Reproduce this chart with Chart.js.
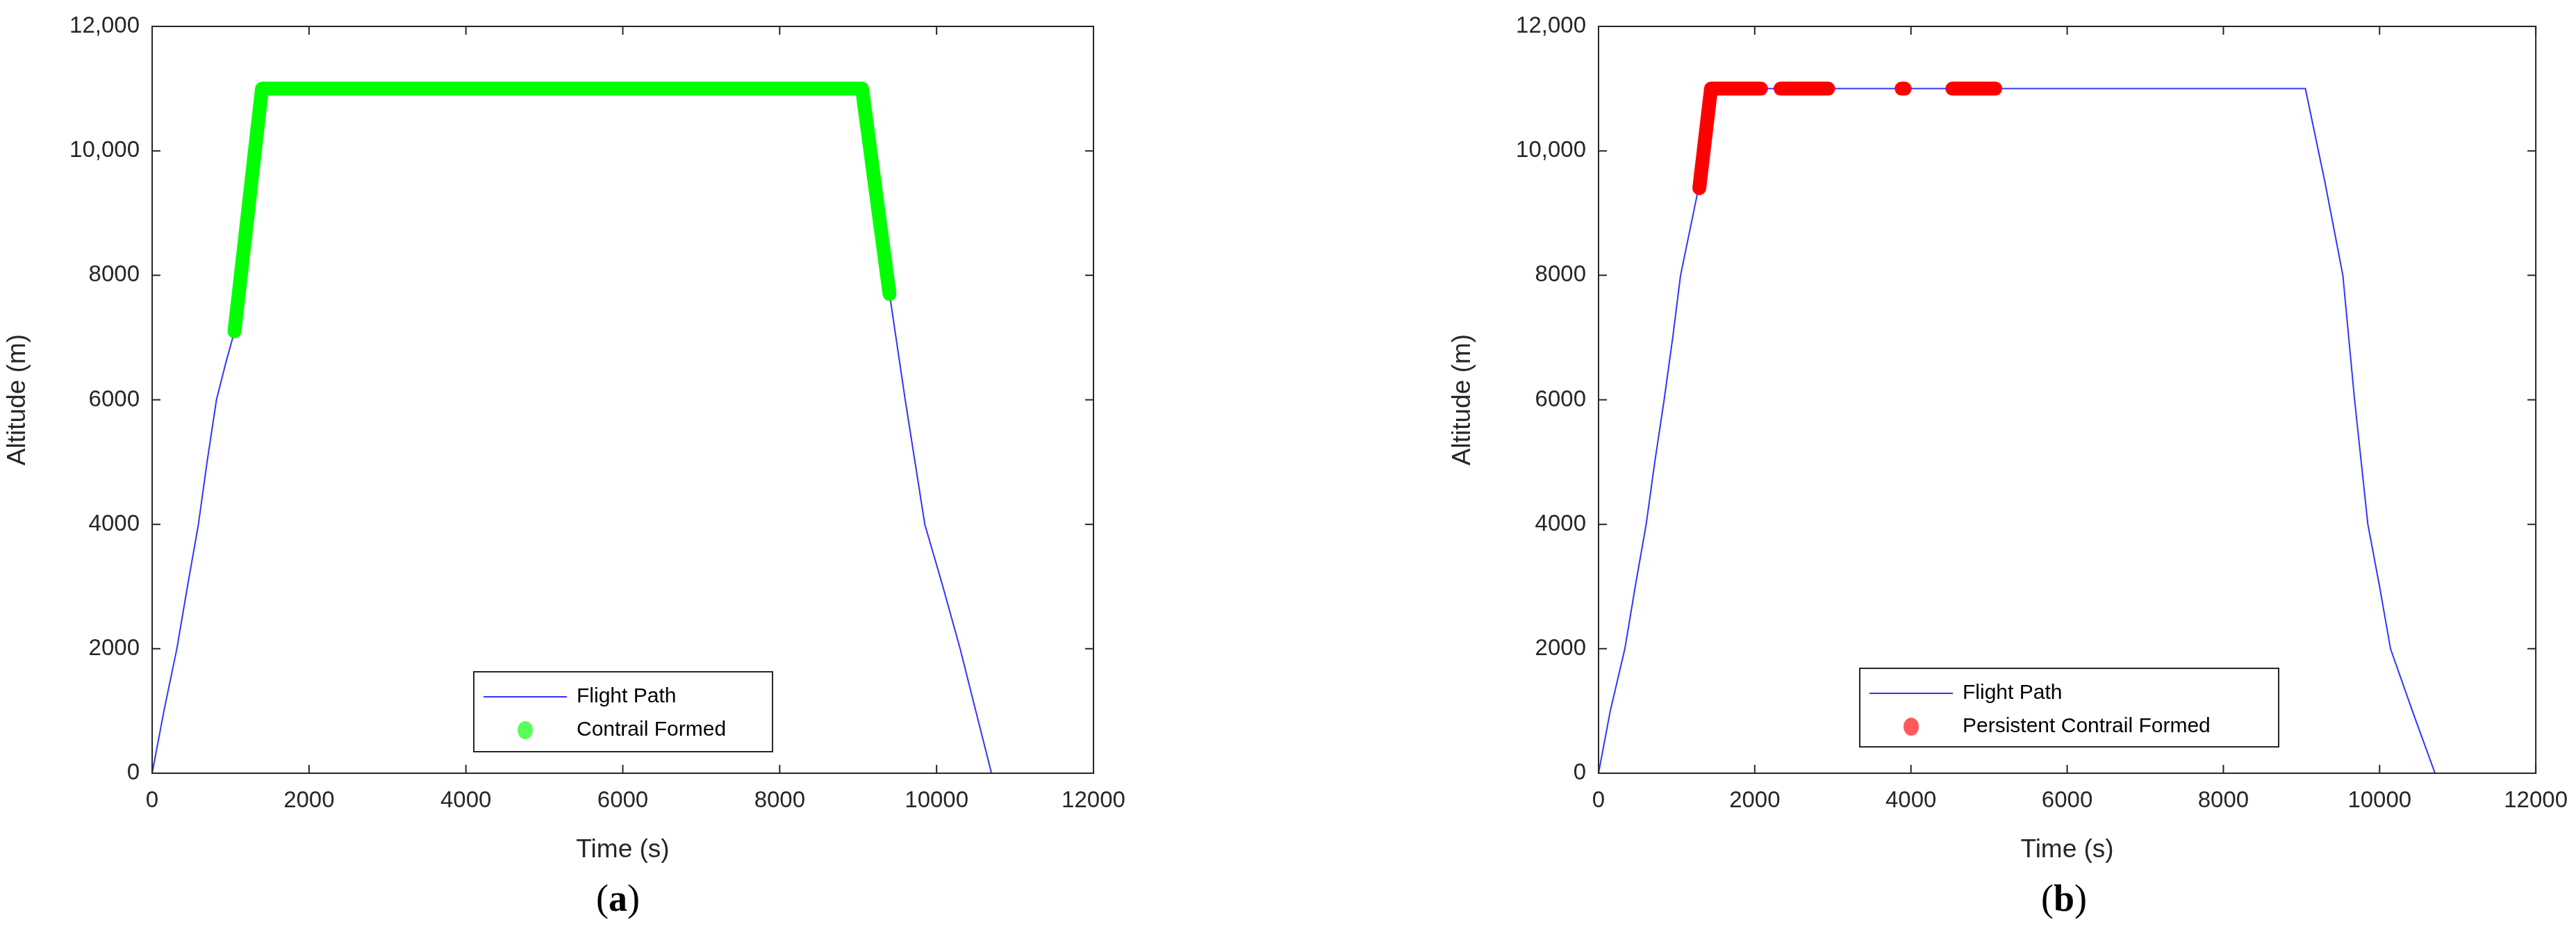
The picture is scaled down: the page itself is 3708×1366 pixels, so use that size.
<!DOCTYPE html>
<html>
<head>
<meta charset="utf-8">
<script src="https://cdn.jsdelivr.net/npm/chart.js@4.4.1/dist/chart.umd.min.js"></script>
<style>
  body { margin: 0; background: #fff; width: 3708px; height: 1366px; position: relative; overflow: hidden; }
  .box { position: absolute; top: 0; }
  .cap { position: absolute; top: 1262px; font-family: "Liberation Serif", serif; font-size: 54px; color: #000; }
</style>
</head>
<body>
<div class="box" style="left:0;width:1640px;height:1250px"><canvas id="js--chart--a" width="1640" height="1250"></canvas></div>
<div class="box" style="left:2080px;width:1628px;height:1250px"><canvas id="js--chart--b" width="1628" height="1250"></canvas></div>
<div class="cap" style="left:858px">(<b>a</b>)</div>
<div class="cap" style="left:2938px">(<b>b</b>)</div>
<script>
// flight path (a)
const timeA = [0, 150, 315, 450, 590, 700, 820, 940, 1050, 1400, 9050, 9400, 9600, 9850, 10080, 10300, 10500, 10700];
const altA = [0, 1000, 2000, 3000, 4000, 5000, 6000, 6600, 7100, 11000, 11000, 7700, 6000, 4000, 3000, 2000, 1000, 0];
// contrail formed (a)
const contrailTimeA = [1050, 1400, 9050, 9400];
const contrailAltA = [7100, 11000, 11000, 7700];

// flight path (b)
const timeB = [0, 150, 337, 470, 610, 720, 840, 950, 1050, 1280, 1450, 9050, 9300, 9530, 9680, 9850, 10000, 10140, 10420, 10710];
const altB = [0, 1000, 2000, 3000, 4000, 5000, 6000, 7000, 8000, 9400, 11000, 11000, 9500, 8000, 6000, 4000, 3000, 2000, 1000, 0];
// persistent contrail (b), null = gap
const contrailTimeB = [1290, 1440, 2080, null, 2330, 2940, null, 3880, 3920, null, 4530, 5080];
const contrailAltB = [9400, 11000, 11000, null, 11000, 11000, null, 11000, 11000, null, 11000, 11000];

const tickFont = { family: 'Liberation Sans, Arial', size: 33 };
const titleFont = { family: 'Liberation Sans, Arial', size: 37 };
const xTicks = [0, 2000, 4000, 6000, 8000, 10000, 12000];

function pts(xs, ys) {
    return xs.map(function (x, i) { return { x: x, y: ys[i] }; });
}

// matlab style box + inward ticks + legend inside
const matlabBox = {
    id: 'matlabBox',
    afterDraw: function (chart, args, opts) {
        const ctx = chart.ctx;
        const a = chart.chartArea;
        const xs = chart.scales.x, ys = chart.scales.y;
        ctx.save();
        ctx.strokeStyle = '#262626';
        ctx.lineWidth = 2;
        ctx.strokeRect(a.left, a.top, a.right - a.left, a.bottom - a.top);
        ctx.beginPath();
        xs.ticks.forEach(function (t) {
            const px = xs.getPixelForValue(t.value);
            ctx.moveTo(px, a.bottom); ctx.lineTo(px, a.bottom - 12);
            ctx.moveTo(px, a.top); ctx.lineTo(px, a.top + 12);
        });
        ys.ticks.forEach(function (t) {
            const py = ys.getPixelForValue(t.value);
            ctx.moveTo(a.left, py); ctx.lineTo(a.left + 12, py);
            ctx.moveTo(a.right, py); ctx.lineTo(a.right - 12, py);
        });
        ctx.stroke();

        // legend
        const lg = opts.box;
        ctx.fillStyle = '#fff';
        ctx.fillRect(lg.x, lg.y, lg.w, lg.h);
        ctx.strokeStyle = '#262626';
        ctx.lineWidth = 2;
        ctx.strokeRect(lg.x, lg.y, lg.w, lg.h);
        ctx.strokeStyle = '#3333ff';
        ctx.beginPath();
        ctx.moveTo(lg.x + 14, lg.y + 36); ctx.lineTo(lg.x + 134, lg.y + 36);
        ctx.stroke();
        ctx.fillStyle = opts.dot;
        ctx.beginPath();
        ctx.ellipse(lg.x + 74, lg.y + 84, 11, 13, 0, 0, Math.PI * 2);
        ctx.fill();
        ctx.fillStyle = '#000';
        ctx.font = '30px "Liberation Sans", Arial';
        ctx.textBaseline = 'middle';
        ctx.fillText(opts.labels[0], lg.x + 148, lg.y + 36);
        ctx.fillText(opts.labels[1], lg.x + 148, lg.y + 84);
        ctx.restore();
    }
};

function makeChart(id, path, contrail, color, yWidth, padRight, legendOpts) {
    return new Chart(document.getElementById(id), {
        type: 'line',
        data: {
            datasets: [
                {
                    label: 'contrail',
                    data: contrail,
                    borderColor: color,
                    borderWidth: 20,
                    borderCapStyle: 'round',
                    borderJoinStyle: 'round',
                    pointRadius: 0,
                    spanGaps: false,
                    order: 0,
                },
                {
                    label: 'Flight Path',
                    data: path,
                    borderColor: '#3333ff',
                    borderWidth: 2,
                    pointRadius: 0,
                    tension: 0,
                    order: 1,
                }
            ]
        },
        options: {
            responsive: false,
            animation: false,
            devicePixelRatio: 1,
            layout: { padding: { top: 38, right: padRight, left: 0, bottom: 0 } },
            plugins: { legend: { display: false }, tooltip: { enabled: false }, matlabBox: legendOpts },
            scales: {
                x: {
                    type: 'linear', min: 0, max: 12000,
                    afterBuildTicks: function (s) { s.ticks = xTicks.map(function (v) { return { value: v }; }); },
                    grid: { display: false },
                    border: { display: false },
                    ticks: { font: tickFont, color: '#262626', padding: 12, maxRotation: 0,
                        callback: function (v) { return String(v); } },
                    title: { display: true, text: 'Time (s)', font: titleFont, color: '#262626', padding: { top: 4 } },
                    afterFit: function (s) { s.height = 137; }
                },
                y: {
                    min: 0, max: 12000,
                    ticks: {
                        stepSize: 2000, font: tickFont, color: '#262626', padding: 10,
                        callback: function (v) { return v >= 10000 ? v.toLocaleString('en-US') : String(v); }
                    },
                    grid: { display: false },
                    border: { display: false },
                    title: { display: true, text: 'Altitude (m)', font: titleFont, color: '#262626' },
                    afterFit: function (s) { s.width = yWidth; }
                }
            }
        },
        plugins: [matlabBox]
    });
}

makeChart('js--chart--a', pts(timeA, altA), pts(contrailTimeA, contrailAltA), '#00ff00', 219, 66,
    { box: { x: 682, y: 967, w: 430, h: 115 }, dot: 'rgba(0,255,0,0.65)', labels: ['Flight Path', 'Contrail Formed'] });

makeChart('js--chart--b', pts(timeB, altB), pts(contrailTimeB, contrailAltB), '#ff0000', 221, 55,
    { box: { x: 597, y: 962, w: 603, h: 113 }, dot: 'rgba(255,0,0,0.65)', labels: ['Flight Path', 'Persistent Contrail Formed'] });
</script>
</body>
</html>
